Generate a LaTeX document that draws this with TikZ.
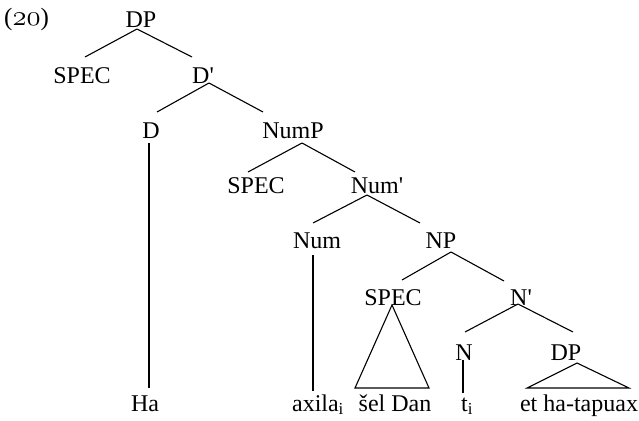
\documentclass[tikz,border=0pt]{standalone}
\usepackage{fontspec}
\setmainfont{Liberation Serif}
\begin{document}
\begin{tikzpicture}[x=1pt,y=-1pt,
  lab/.style={inner sep=0pt,anchor=base,font=\fontsize{24}{28}\selectfont},
  br/.style={line width=1.1pt}]
\useasboundingbox (0,0) rectangle (639,420);
\node[inner sep=0pt,anchor=base west,font=\fontsize{25}{28}\selectfont] (ex) at (4,26) {(\scalebox{1.15}{\usefont{OML}{cmm}{m}{it}\fontsize{24.88}{26}\selectfont 20})};
% nodes
\node[lab] (dp) at (141,28) {DP};
\node[lab] (spec1) at (82,83) {SPEC};
\node[lab] (dbar) at (203,83) {D\textquotesingle};
\node[lab] (d) at (151,138) {D};
\node[lab] (nump) at (293,138) {NumP};
\node[lab] (spec2) at (256,193) {SPEC};
\node[lab] (numbar) at (377,193) {Num\textquotesingle};
\node[lab] (num) at (317,248) {Num};
\node[lab] (np) at (441,248) {NP};
\node[lab] (spec3) at (393,305) {SPEC};
\node[lab] (nbar) at (521,305) {N\textquotesingle};
\node[lab] (n) at (464,360) {N};
\node[lab] (dp2) at (566,360) {DP};
\node[lab] (ha) at (145,411) {Ha};
\node[lab] (axila) at (318,411) {axila\textsubscript{i}};
\node[lab] (sel) at (395,411) {šel Dan};
\node[lab] (ti) at (467,411) {t\textsubscript{i}};
\node[lab] (et) at (579,411) {et ha-tapuax};
% branches
\draw[br] ([shift={(-4,1)}]dp.base) -- ([shift={(3,-26)}]spec1.base);
\draw[br] ([shift={(-4,1)}]dp.base) -- ([shift={(-11,-26)}]dbar.base);
\draw[br] ([shift={(6,0)}]dbar.base) -- ([shift={(6,-26)}]d.base);
\draw[br] ([shift={(6,0)}]dbar.base) -- ([shift={(-30,-26)}]nump.base);
\draw[br] ([shift={(9,5)}]nump.base) -- ([shift={(-8,-21)}]spec2.base);
\draw[br] ([shift={(9,5)}]nump.base) -- ([shift={(-22,-21)}]numbar.base);
\draw[br] ([shift={(-10,2)}]numbar.base) -- ([shift={(-4,-25)}]num.base);
\draw[br] ([shift={(-10,2)}]numbar.base) -- ([shift={(-21,-25)}]np.base);
\draw[br] ([shift={(10,4)}]np.base) -- ([shift={(9,-25)}]spec3.base);
\draw[br] ([shift={(10,4)}]np.base) -- ([shift={(-17,-24)}]nbar.base);
\draw[br] ([shift={(-3,-1)}]nbar.base) -- ([shift={(1,-28)}]n.base);
\draw[br] ([shift={(-3,-1)}]nbar.base) -- ([shift={(7,-28)}]dp2.base);
% unary lines
\draw[br] ([shift={(-2,5)}]d.base) -- ([shift={(4,-23)}]ha.base);
\draw[br] ([shift={(-4,7)}]num.base) -- ([shift={(-5,-20)}]axila.base);
\draw[br] ([shift={(-1,0)}]n.base) -- ([shift={(-4,-18)}]ti.base);
% triangles
\draw[br,line join=miter] ([shift={(-1,0)}]spec3.base) -- ([shift={(-40,-23)}]sel.base) -- ([shift={(34,-23)}]sel.base) -- cycle;
\draw[br,line join=miter] ([shift={(11,3)}]dp2.base) -- ([shift={(-52,-23)}]et.base) -- ([shift={(50,-23)}]et.base) -- cycle;
\end{tikzpicture}
\end{document}
